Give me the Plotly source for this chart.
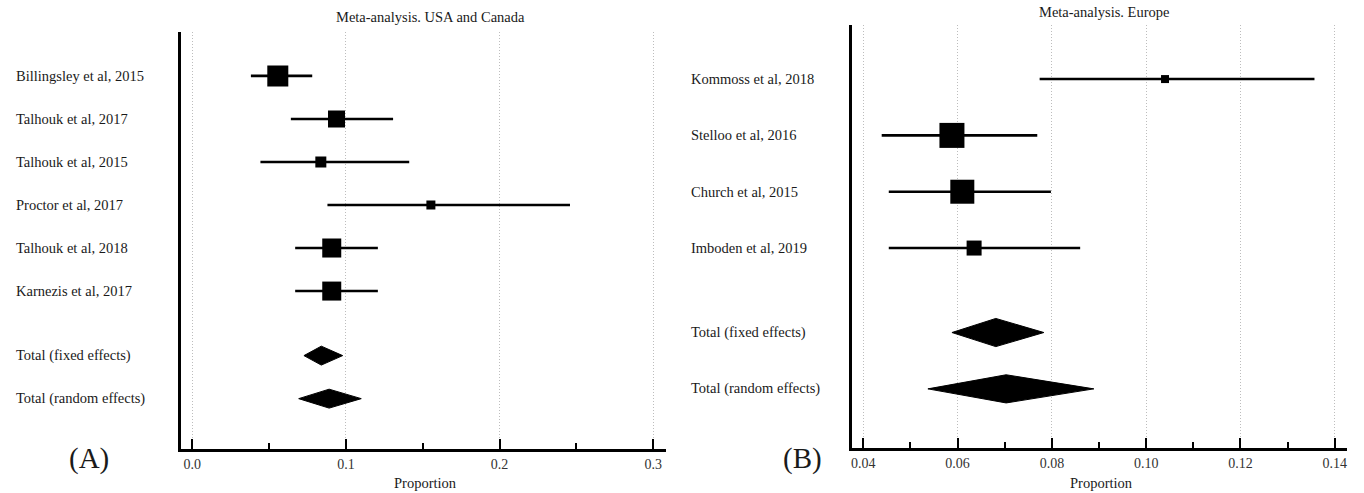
import plotly.graph_objects as go

# ---- Panel A: USA and Canada ----
studies_a = ["Billingsley et al, 2015", "Talhouk et al, 2017", "Talhouk et al, 2015",
             "Proctor et al, 2017", "Talhouk et al, 2018", "Karnezis et al, 2017"]
est_a = [0.0557, 0.0939, 0.0837, 0.1553, 0.0908, 0.0908]
lo_a = [0.0382, 0.0642, 0.0444, 0.0880, 0.0670, 0.0670]
hi_a = [0.0781, 0.1307, 0.1412, 0.2458, 0.1208, 0.1208]
pooled_labels = ["Total (fixed effects)", "Total (random effects)"]
pooled_est_a = [0.0840, 0.0891]
pooled_lo_a = [0.0727, 0.0693]
pooled_hi_a = [0.0979, 0.1100]

# ---- Panel B: Europe ----
studies_b = ["Kommoss et al, 2018", "Stelloo et al, 2016", "Church et al, 2015", "Imboden et al, 2019"]
est_b = [0.1040, 0.0588, 0.0610, 0.0635]
lo_b = [0.0774, 0.0439, 0.0454, 0.0454]
hi_b = [0.1357, 0.0769, 0.0798, 0.0860]
pooled_est_b = [0.0681, 0.0703]
pooled_lo_b = [0.0588, 0.0537]
pooled_hi_b = [0.0783, 0.0889]

ticks_a = [0.0, 0.1, 0.2, 0.3]
ticks_b = [0.04, 0.06, 0.08, 0.10, 0.12, 0.14]

# marker side lengths (px), proportional to study weight
box_px_a = [21, 17, 11, 9, 19, 19]
box_px_b = [8, 25, 24, 15]

SERIF = "Liberation Serif"
INK = "#1a1a1a"
W, H = 1364, 493

fig = go.Figure()


def add_panel(xa, ya, names, est, lo, hi, sizes, p_est, p_lo, p_hi, diamond_h):
    n = len(names)
    rows = list(range(n))
    fig.add_trace(go.Scatter(
        x=est, y=rows, mode="markers", xaxis=xa, yaxis=ya,
        marker=dict(symbol="square", size=sizes, color="black", opacity=1,
                    line=dict(width=0)),
        error_x=dict(type="data", symmetric=False,
                     array=[h - e for h, e in zip(hi, est)],
                     arrayminus=[e - l for e, l in zip(est, lo)],
                     thickness=2.6, width=0, color="black"),
        showlegend=False, hoverinfo="skip"))
    prow = [n + 0.5, n + 1.5]
    for e, l, h, r in zip(p_est, p_lo, p_hi, prow):
        fig.add_trace(go.Scatter(
            x=[l, e, h, e, l], y=[r, r - diamond_h, r, r + diamond_h, r],
            mode="lines", fill="toself", fillcolor="black",
            line=dict(color="black", width=1), xaxis=xa, yaxis=ya,
            showlegend=False, hoverinfo="skip"))
    return rows + prow


rows_a = add_panel("x", "y", studies_a, est_a, lo_a, hi_a, box_px_a,
                   pooled_est_a, pooled_lo_a, pooled_hi_a, 0.22)
rows_b = add_panel("x2", "y2", studies_b, est_b, lo_b, hi_b, box_px_b,
                   pooled_est_b, pooled_lo_b, pooled_hi_b, 0.25)

xaxis_common = dict(
    showline=True, linecolor="black", linewidth=3, mirror=False,
    ticks="inside", ticklen=10, tickwidth=2, tickcolor="black",
    showgrid=True, gridcolor="#bdbdbd", gridwidth=1, griddash="1px,2px",
    zeroline=False, fixedrange=True,
    tickfont=dict(family=SERIF, size=14, color="#333"),
)
yaxis_common = dict(
    showline=True, linecolor="black", linewidth=3, showgrid=False,
    zeroline=False, showticklabels=False, ticks="", autorange=False, fixedrange=True,
)

# pixel layout of the two plot areas
ax_a = dict(x0=180.5, x1=665.6, y0=32, y1=449)
ax_b = dict(x0=852, x1=1347, y0=25, y1=448)

fig.update_layout(
    width=W, height=H, margin=dict(l=0, r=0, t=0, b=0),
    paper_bgcolor="white", plot_bgcolor="white",
    xaxis=dict(**xaxis_common, domain=[ax_a["x0"] / W, ax_a["x1"] / W],
               range=[-0.0076, 0.308], tickvals=ticks_a, tickformat=".1f",
               minor=dict(tickvals=[0.05, 0.15, 0.25], ticks="inside", ticklen=6,
                          tickwidth=2, tickcolor="black", showgrid=False)),
    yaxis=dict(**yaxis_common, domain=[1 - ax_a["y1"] / H, 1 - ax_a["y0"] / H],
               range=[8.67, -1.02], anchor="x"),
    xaxis2=dict(**xaxis_common, domain=[ax_b["x0"] / W, ax_b["x1"] / W],
                range=[0.0376, 0.1426], tickvals=ticks_b, tickformat=".2f", anchor="y2",
                minor=dict(tickvals=[0.05, 0.07, 0.09, 0.11, 0.13], ticks="inside", ticklen=6,
                           tickwidth=2, tickcolor="black", showgrid=False)),
    yaxis2=dict(**yaxis_common, domain=[1 - ax_b["y1"] / H, 1 - ax_b["y0"] / H],
                range=[6.55, -0.96], anchor="x2"),
)

annotations = []
label_font = dict(family=SERIF, size=14.5, color=INK)
for lab, r in zip(studies_a + pooled_labels, rows_a):
    annotations.append(dict(text=lab, x=14 / W, y=r, xref="paper", yref="y",
                            xanchor="left", yanchor="middle", showarrow=False, font=label_font))
for lab, r in zip(studies_b + pooled_labels, rows_b):
    annotations.append(dict(text=lab, x=689 / W, y=r, xref="paper", yref="y2",
                            xanchor="left", yanchor="middle", showarrow=False, font=label_font))

title_font = dict(family=SERIF, size=14.5, color=INK)
for txt, cx, cy in [("Meta-analysis. USA and Canada", 430, 17),
                    ("Meta-analysis. Europe", 1104, 12),
                    ("Proportion", 425, 483),
                    ("Proportion", 1101, 483)]:
    annotations.append(dict(text=txt, x=cx / W, y=1 - cy / H, xref="paper", yref="paper",
                            xanchor="center", yanchor="middle", showarrow=False, font=title_font))

for txt, cx in [("(A)", 89), ("(B)", 802)]:
    annotations.append(dict(text=txt, x=cx / W, y=1 - 458 / H, xref="paper", yref="paper",
                            xanchor="center", yanchor="middle", showarrow=False,
                            font=dict(family=SERIF, size=29, color=INK)))

fig.update_layout(annotations=annotations)
fig.write_html("out.html")
